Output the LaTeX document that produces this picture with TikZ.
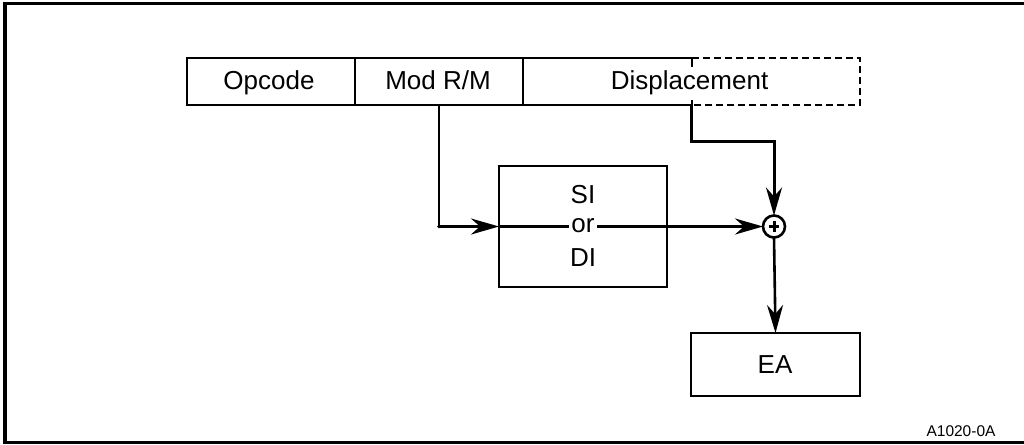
\documentclass[tikz,border=0pt]{standalone}
\usepackage{fontspec}
\setmainfont{Liberation Sans}
\usetikzlibrary{arrows.meta}
\begin{document}
\begin{tikzpicture}[x=1pt,y=-1pt,line width=2.6pt,
  every node/.style={outer sep=0pt},
  lbl/.style={font=\fontsize{26}{30}\selectfont, inner sep=0pt, anchor=base},
  small/.style={font=\fontsize{15.5}{18}\selectfont, inner sep=0pt, anchor=base},
  field/.style={draw, minimum width=168pt, minimum height=47pt, inner sep=0pt},
  blk/.style={draw, inner sep=0pt},
  arr/.style={-{Stealth[length=28pt,width=16pt,inset=9pt]}},
  dsh/.style={dash pattern=on 7pt off 4pt}]
\useasboundingbox (0,0) rectangle (1024,444);
% frame
\draw[line width=3.3pt] (1026,3.5) -- (5,3.5) -- (5,442.5) -- (1026,442.5);
% instruction fields
\node[field] (op) at (271,81.5) {};
\node[field] (mod) at (439,81.5) {};
\node[minimum width=337pt, minimum height=47pt, inner sep=0pt] (disp) at (691.5,81.5) {};
\coordinate (dtop) at (692,58);
\coordinate (dbot) at (692,105);
\draw (mod.north east) -- (dtop) -- ++(0,9);
\draw (mod.south east) -- (dbot) -- ++(0,-5);
\draw[dsh] (dtop) -- (disp.north east) -- (disp.south east) -- (dbot);
\node[lbl] (tOp) at (269,89.3) {Opcode};
\node[lbl] (tMod) at (438,89.3) {Mod R/M};
\node[lbl] (tDisp) at (689.5,89.3) {Displacement};
% blocks
\node[blk, minimum width=168pt, minimum height=121pt] (sidi) at (583,226.5) {};
\node[circle, draw, minimum size=22pt, inner sep=0pt] (sum) at (774,226.5) {};
\draw[line width=3pt] (sum.center) +(-5.2,0) -- +(5.2,0) (sum.center) +(0,-5.2) -- +(0,5.2);
\node[blk, minimum width=169pt, minimum height=63pt] (ea) at (775.5,364.5) {};
% connectors
\draw[arr] (mod.south) |- (sidi.west);
\fill (mod.south |- sidi.west) circle (1.8pt);
\draw[arr] (sidi.west) -- (sum.west);
\draw[arr, line width=3pt] (disp.south) -- ++(0,36) -| (sum.north);
\draw[arr] (sum.south) -- (ea.north);
% labels
\node[lbl] (tSI) at (583,203) {SI};
\node[lbl, fill=white, inner xsep=2.5pt] (tOr) at (583,232.7) {or};
\node[lbl] (tDI) at (583,266.7) {DI};
\node[lbl] (tEA) at (775,373.3) {EA};
\node[small] (tCode) at (961,436.7) {A1020-0A};
\end{tikzpicture}
\end{document}
